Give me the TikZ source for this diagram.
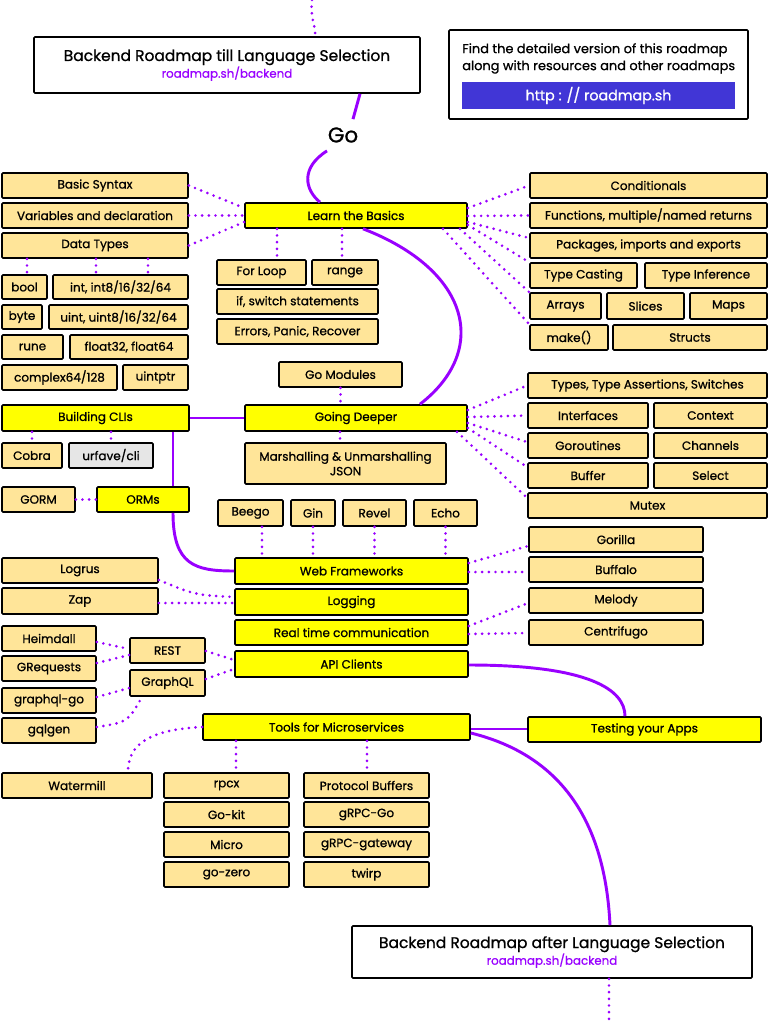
\documentclass[tikz,border=0pt]{standalone}
\usepackage{fontspec}
\setmainfont{Poppins}[FakeBold=0.9]
\definecolor{peach}{HTML}{FFE599}
\definecolor{hilite}{HTML}{FFFF00}
\definecolor{vio}{HTML}{9900FF}
\definecolor{btnblue}{HTML}{4136D6}
\definecolor{urfgray}{HTML}{E6E6E6}
% box from its corners: style, name, x1, y1, x2, y2, text
\newcommand{\bx}[7]{\node[#1, minimum width={(#5-#3)*0.75pt}, minimum height={(#6-#4)*0.75pt}] (#2) at ({(#3+#5)/2},{(#4+#6)/2}) {#7};}

\begin{document}
\begin{tikzpicture}[x=0.75pt, y=-0.75pt,
  box/.style={draw=black, line width=1.2pt, fill=peach, inner sep=0pt, rounded corners=0.8pt, font=\fontsize{9}{11}\selectfont, align=center},
  topic/.style={box, fill=hilite},
  alt/.style={box, fill=urfgray},
  plain/.style={box, fill=white},
  dots/.style={draw=vio, line width=2.2pt, line cap=round, dash pattern=on 0pt off 5pt},
  road/.style={draw=vio, line width=2.2pt}]
\fill[white] (0,0) rectangle (768,1024);
\useasboundingbox (0,0) rectangle (768,1024);

% header
\bx{plain}{ttl}{34}{37}{420}{93}{\fontsize{11.6}{13.5}\selectfont Backend Roadmap till Language Selection\\{\fontsize{8.9}{10}\selectfont\color{vio}roadmap.sh/backend}}
\bx{plain}{inf}{449}{30}{748}{119}{}
\node[anchor=north west, align=left, inner sep=0pt, font=\fontsize{9.7}{12.75}\selectfont] (inft) at (462,43) {Find the detailed version of this roadmap\\along with resources and other roadmaps};
\bx{box, draw=none, rounded corners=0pt, fill=btnblue, text=white, font=\fontsize{10.7}{12}\selectfont}{btn}{462}{82}{735}{109}{http : // roadmap.sh}
\node[font=\fontsize{16}{18}\selectfont, inner sep=6pt] (go) at (343,135) {Go};

% learn the basics
\bx{topic}{ltb}{245}{203}{467}{228}{Learn the Basics}
\bx{box}{bsx}{2}{173}{188}{198}{Basic Syntax}
\bx{box}{var}{2}{203}{188}{228}{Variables and declaration}
\bx{box}{dtp}{2}{233}{188}{258}{Data Types}
\bx{box}{bool}{2}{275}{47}{299}{bool}
\bx{box}{int}{53}{275}{188}{299}{int, int8/16/32/64}
\bx{box}{byte}{2}{305}{42}{329}{byte}
\bx{box}{uint}{49}{305}{188}{329}{uint, uint8/16/32/64}
\bx{box}{rune}{2}{335}{63}{359}{rune}
\bx{box}{flt}{70}{335}{188}{359}{float32, float64}
\bx{box}{cpx}{2}{365}{117}{390}{complex64/128}
\bx{box}{uptr}{123}{365}{188}{390}{uintptr}
\bx{box}{flp}{217}{260}{306}{285}{For Loop}
\bx{box}{rng}{312}{260}{378}{285}{range}
\bx{box}{ifs}{217}{289}{378}{314}{if, switch statements}
\bx{box}{err}{217}{319}{378}{344}{Errors, Panic, Recover}
\bx{box}{cnd}{530}{173}{767}{198}{Conditionals}
\bx{box}{fun}{530}{203}{767}{228}{Functions, multiple/named returns}
\bx{box}{pkg}{530}{233}{767}{258}{Packages, imports and exports}
\bx{box}{tcs}{530}{263}{637}{288}{Type Casting}
\bx{box}{tin}{645}{263}{767}{288}{Type Inference}
\bx{box}{arr}{530}{293}{601}{319}{Arrays}
\bx{box}{slc}{607}{293}{684}{319}{Slices}
\bx{box}{maps}{690}{293}{767}{319}{Maps}
\bx{box}{mke}{530}{325}{608}{350}{make()}
\bx{box}{stc}{613}{325}{767}{350}{Structs}

% going deeper
\bx{box}{gmd}{279}{362}{402}{387}{Go Modules}
\bx{topic}{gdp}{245}{405}{467}{431}{Going Deeper}
\bx{topic}{cli}{2}{405}{189}{431}{Building CLIs}
\bx{box}{cbr}{2}{443}{62}{468}{Cobra}
\bx{alt}{urf}{69}{443}{153}{468}{urfave/cli}
\bx{box}{msh}{245}{443}{446}{484}{Marshalling \& Unmarshalling\\JSON}
\bx{box}{grm}{2}{487}{75}{512}{GORM}
\bx{topic}{orm}{97}{487}{189}{512}{ORMs}
\bx{box}{typ}{528}{373}{767}{398}{Types, Type Assertions, Switches}
\bx{box}{itf}{528}{403}{648}{428}{Interfaces}
\bx{box}{ctx}{654}{403}{767}{428}{Context}
\bx{box}{gor}{528}{433}{648}{458}{Goroutines}
\bx{box}{chn}{654}{433}{767}{458}{Channels}
\bx{box}{buf}{528}{463}{648}{488}{Buffer}
\bx{box}{sel}{654}{463}{767}{488}{Select}
\bx{box}{mtx}{528}{493}{767}{518}{Mutex}

% web side
\bx{box}{bgo}{218}{500}{283}{526}{Beego}
\bx{box}{gin}{291}{500}{335}{526}{Gin}
\bx{box}{rvl}{343}{500}{406}{526}{Revel}
\bx{box}{ech}{414}{500}{477}{526}{Echo}
\bx{topic}{wfw}{235}{558}{468}{584}{Web Frameworks}
\bx{topic}{log}{235}{589}{468}{615}{Logging}
\bx{topic}{rtc}{235}{620}{468}{645}{Real time communication}
\bx{topic}{api}{235}{651}{468}{677}{API Clients}
\bx{box}{lgr}{2}{558}{158}{583}{Logrus}
\bx{box}{zap}{2}{588}{158}{614}{Zap}
\bx{box}{gla}{529}{527}{703}{552}{Gorilla}
\bx{box}{bfl}{529}{557}{703}{582}{Buffalo}
\bx{box}{mel}{529}{588}{703}{613}{Melody}
\bx{box}{cen}{529}{620}{703}{645}{Centrifugo}
\bx{box}{hmd}{2}{626}{96}{651}{Heimdall}
\bx{box}{grq}{2}{656}{96}{681}{GRequests}
\bx{box}{gqg}{2}{688}{96}{713}{graphql-go}
\bx{box}{gql}{2}{718}{96}{743}{gqlgen}
\bx{box}{rst}{130}{638}{205}{663}{REST}
\bx{box}{gph}{130}{670}{205}{696}{GraphQL}

% microservices
\bx{topic}{tms}{203}{714}{470}{740}{Tools for Microservices}
\bx{topic}{tst}{528}{717}{761}{742}{Testing your Apps}
\bx{box}{wml}{2}{773}{152}{798}{Watermill}
\bx{box}{rpc}{164}{773}{289}{798}{rpcx}
\bx{box}{gkt}{164}{802}{289}{827}{Go-kit}
\bx{box}{mic}{164}{832}{289}{857}{Micro}
\bx{box}{gzr}{164}{862}{289}{887}{go-zero}
\bx{box}{pbf}{304}{773}{429}{798}{Protocol Buffers}
\bx{box}{ggo}{304}{802}{429}{827}{gRPC-Go}
\bx{box}{ggw}{304}{832}{429}{857}{gRPC-gateway}
\bx{box}{twp}{304}{862}{429}{887}{twirp}
\bx{plain}{fin}{352}{926}{752}{978}{\fontsize{11.6}{13.5}\selectfont Backend Roadmap after Language Selection\\{\fontsize{8.9}{10}\selectfont\color{vio}roadmap.sh/backend}}

% the road
\coordinate (top) at (312,0);
\coordinate (bot) at (609,1024);
\draw[dots] (top) .. controls (310,20) and (316,25) .. (315,0 |- ttl.north);
\draw[road] (360,0 |- ttl.south) -- (go.north -| 353,0);
\draw[road] (go.south -| 327,0) .. controls (300,168) and (305,190) .. (320,0 |- ltb.north);
\draw[road] (363,0 |- ltb.south) .. controls (470,270) and (490,350) .. (420,0 |- gdp.north);
\draw[road] (cli.east) -- (gdp.west);
\draw[road] (173,0 |- cli.south) -- (173,0 |- orm.north);
\draw[road] (173,0 |- orm.south) .. controls (173,565) and (195,571) .. (wfw.west);
\draw[road] (api.east |- 0,665) .. controls (590,665) and (625,690) .. (625,0 |- tst.north);
\draw[road] (tms.east |- 0,729) -- (tst.west |- 0,729);
\draw[road] (tms.east |- 0,733) .. controls (560,755) and (605,820) .. (610,0 |- fin.north);
\draw[dots] (609,0 |- fin.south) -- (bot);

% basics links
\draw[dots] (bsx.east) -- (ltb.west |- 0,208);
\draw[dots] (var.east) -- (ltb.west);
\draw[dots] (dtp.east) -- (ltb.west |- 0,222);
\draw[dots] (27,0 |- dtp.south) -- (27,0 |- bool.north);
\draw[dots] (96,0 |- dtp.south) -- (96,0 |- int.north);
\draw[dots] (148,0 |- dtp.south) -- (148,0 |- int.north);
\draw[dots] (277,0 |- ltb.south) -- (277,0 |- flp.north);
\draw[dots] (342,0 |- ltb.south) -- (342,0 |- rng.north);
\draw[dots] (ltb.east |- 0,208) -- (cnd.west);
\draw[dots] (ltb.east |- 0,216) -- (fun.west);
\draw[dots] (ltb.east |- 0,222) -- (pkg.west |- 0,238);
\draw[dots] (ltb.east |- 0,225) -- (tcs.north west);
\draw[dots] (460,0 |- ltb.south) -- (arr.north west);
\draw[dots] (443,0 |- ltb.south) -- (mke.north west);

% deeper links
\draw[dots] (gmd.south) -- (gmd.south |- gdp.north);
\draw[dots] (cbr.north |- cli.south) -- (cbr.north);
\draw[dots] (urf.north |- cli.south) -- (urf.north);
\draw[dots] (grm.east) -- (orm.west);
\draw[dots] (340,0 |- gdp.south) -- (340,0 |- msh.north);
\draw[dots] (gdp.east |- 0,410) -- (typ.west);
\draw[dots] (gdp.east |- 0,417) -- (itf.west);
\draw[dots] (gdp.east |- 0,423) -- (gor.west |- 0,442);
\draw[dots] (gdp.east |- 0,428) -- (buf.west |- 0,467);
\draw[dots] (457,0 |- gdp.south) -- (mtx.west |- 0,498);

% web links
\draw[dots] (262,0 |- bgo.south) -- (262,0 |- wfw.north);
\draw[dots] (gin.south) -- (gin.south |- wfw.north);
\draw[dots] (rvl.south) -- (rvl.south |- wfw.north);
\draw[dots] (ech.south) -- (ech.south |- wfw.north);
\draw[dots] (wfw.east |- 0,563) -- (gla.west |- 0,546);
\draw[dots] (wfw.east |- 0,572) -- (bfl.west |- 0,572);
\draw[dots] (lgr.east |- 0,580) .. controls (195,595) .. (log.west |- 0,597);
\draw[dots] (zap.east |- 0,603) -- (log.west |- 0,603);
\draw[dots] (rtc.east |- 0,626) -- (mel.west |- 0,603);
\draw[dots] (rtc.east |- 0,634) -- (cen.west |- 0,633);
\draw[dots] (hmd.east |- 0,642) -- (rst.west |- 0,649);
\draw[dots] (grq.east |- 0,663) -- (rst.west |- 0,655);
\draw[dots] (rst.east |- 0,651) -- (api.west |- 0,660);
\draw[dots] (gph.east |- 0,679) -- (api.west |- 0,669);
\draw[dots] (gqg.east |- 0,697) -- (gph.west |- 0,688);
\draw[dots] (gql.east |- 0,727) .. controls (128,722) .. (142,0 |- gph.south);

% microservice links
\draw[dots] (tms.west |- 0,727) .. controls (140,730) and (128,750) .. (128,0 |- wml.north);
\draw[dots] (236,0 |- tms.south) -- (236,0 |- rpc.north);
\draw[dots] (367,0 |- tms.south) -- (367,0 |- pbf.north);
\end{tikzpicture}
\end{document}
